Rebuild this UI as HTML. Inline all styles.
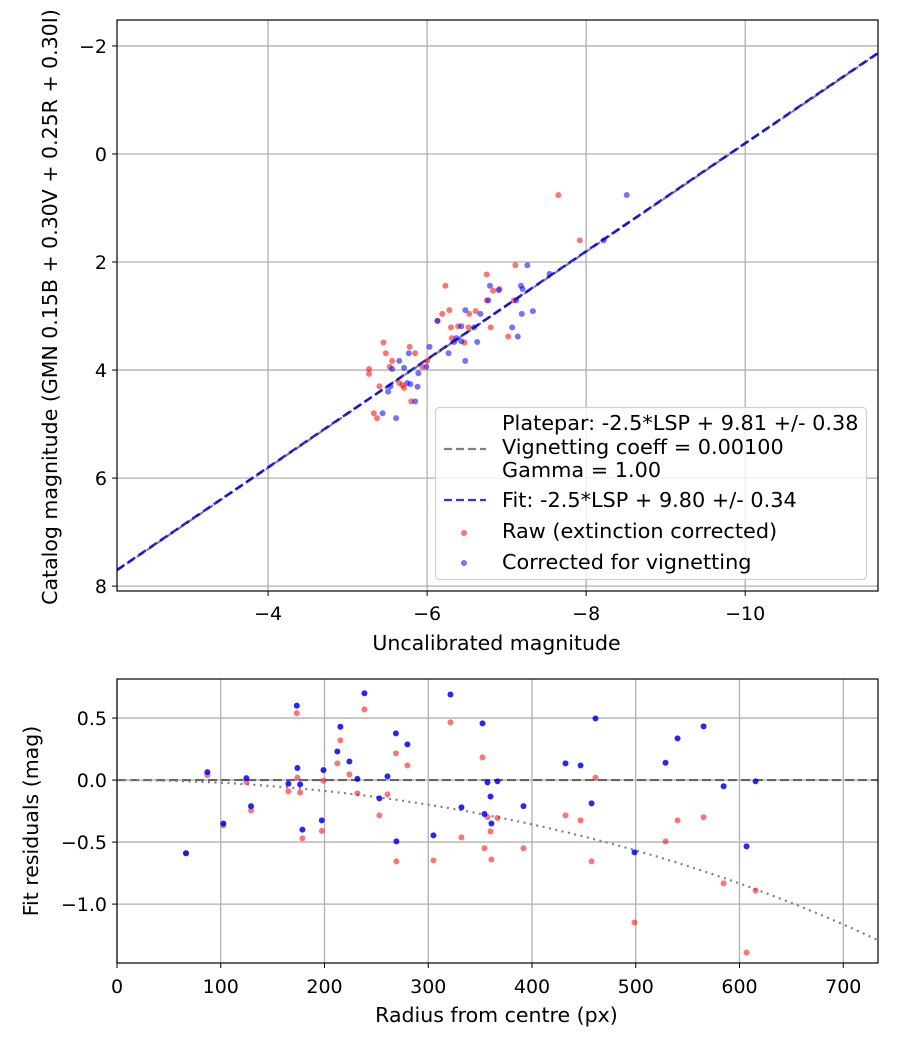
<!DOCTYPE html>
<html><head><meta charset="utf-8"><style>
body{margin:0;background:#fff}
svg text{font-family:"DejaVu Sans","Liberation Sans",sans-serif;fill:#000}
</style></head><body>
<svg id="fig" width="900" height="1050" xmlns="http://www.w3.org/2000/svg">
<rect width="900" height="1050" fill="#fff"/>
<g id="topplot"></g>
<g id="botplot"></g>
</svg>
<script>
// ---- Top chart data ----
const rawX = [-7.11,-6.75,-6.23,-6.83,-6.91,-6.75,-7.09,-6.28,-6.19,-6.61,-6.53,-6.30,-6.39,-6.52,-6.80,-6.31,-6.47,-7.02,-5.45,-5.78,-5.85,-5.48,-5.56,-5.53,-6.00,-5.27,-5.27,-5.40,-5.65,-5.69,-5.71,-5.80,-5.33,-5.37,-5.94,-7.65,-7.92,-6.13];
const rawY = [2.06,2.23,2.44,2.53,2.50,2.71,2.71,2.89,2.96,2.91,2.96,3.21,3.19,3.21,3.21,3.41,3.49,3.38,3.49,3.57,3.69,3.69,3.83,3.94,3.83,3.98,4.07,4.30,4.24,4.28,4.33,4.58,4.80,4.89,3.94,0.76,1.60,3.09];
const corX = [-7.26,-6.79,-6.90,-6.77,-7.12,-7.18,-7.20,-6.48,-6.67,-7.33,-7.19,-6.13,-6.43,-6.59,-7.07,-7.14,-6.37,-6.43,-6.63,-6.34,-6.03,-6.27,-6.48,-5.77,-5.65,-5.71,-5.56,-5.89,-5.99,-5.75,-5.79,-5.88,-5.54,-5.51,-5.85,-5.44,-5.61,-8.51,-8.22,-7.54];
const corY = [2.06,2.44,2.52,2.71,2.71,2.44,2.50,2.89,2.96,2.91,2.96,3.09,3.19,3.21,3.21,3.38,3.41,3.47,3.48,3.48,3.57,3.69,3.83,3.69,3.83,3.96,3.98,4.06,3.94,4.24,4.26,4.31,4.30,4.40,4.58,4.80,4.89,0.76,1.60,2.22];
const fitZero = [9.80];
const plateZero = [9.81];
const topXTicks = [-4,-6,-8,-10];
const topYTicks = [-2,0,2,4,6,8];
// ---- Bottom chart data ----
const radius = [66.5,87.1,102.5,124.7,129.2,165.2,173.3,173.9,176.5,178.7,197.4,199,212.4,215.3,224,231.7,238.5,252.9,260.7,268.8,269.3,279.9,305,321.4,332,352.3,354.2,357.1,360,360.9,366.7,391.8,432.3,446.8,457.4,461.2,498.8,528.7,540.3,565.4,584.7,606.8,615.5];
const residCor = [-0.59,0.064,-0.35,0.016,-0.21,-0.03,0.60,0.097,-0.035,-0.40,-0.325,0.08,0.23,0.43,0.15,0.01,0.70,-0.148,0.03,0.377,-0.494,0.288,-0.446,0.69,-0.22,0.457,-0.274,-0.019,-0.132,-0.35,-0.01,-0.21,0.135,0.118,-0.188,0.497,-0.583,0.14,0.336,0.433,-0.05,-0.535,-0.01];
const residRaw = [-0.59,0.04,-0.365,-0.016,-0.245,-0.09,0.54,0.02,-0.10,-0.47,-0.41,-0.005,0.135,0.32,0.046,-0.107,0.57,-0.285,-0.115,0.215,-0.656,0.118,-0.648,0.465,-0.462,0.183,-0.55,-0.298,-0.414,-0.64,-0.306,-0.55,-0.285,-0.325,-0.656,0.02,-1.148,-0.494,-0.325,-0.30,-0.833,-1.39,-0.89];
const vignCoeff = [0.001];
const botXTicks = [0,100,200,300,400,500,600,700];
const botYTicks = [0.5,0.0,-0.5,-1.0];

const NS='http://www.w3.org/2000/svg';
function mk(parent,tag,attrs,text){const e=document.createElementNS(NS,tag);for(const k in attrs)e.setAttribute(k,attrs[k]);if(text!==undefined)e.textContent=text;parent.appendChild(e);return e;}
function fmt(v,d){const s=v.toFixed(d);return v<0?'\u2212'+s.slice(1):s;}
const TICKFS=19, TITLEFS=20.5, LEGFS=20.8;

// ---- Top axes ----
const T={l:117,r:878,t:20,b:591,xmin:-2.1,xmax:-11.67,ymin:-2.48,ymax:8.09};
const tx=v=>T.l+(v-T.xmin)/(T.xmax-T.xmin)*(T.r-T.l);
const ty=v=>T.t+(v-T.ymin)/(T.ymax-T.ymin)*(T.b-T.t);
const topG=document.getElementById('topplot');
const tg=mk(topG,'g',{});


topXTicks.forEach(v=>{
  mk(tg,'line',{x1:tx(v),x2:tx(v),y1:T.t,y2:T.b,stroke:'#b0b0b0','stroke-width':1.3});
  mk(topG,'line',{x1:tx(v),x2:tx(v),y1:T.b,y2:T.b+5,stroke:'#000','stroke-width':1});
  const t=mk(topG,'text',{x:tx(v),y:T.b+29,'text-anchor':'middle','font-size':TICKFS},fmt(v,0));
  
  
});
topYTicks.forEach(v=>{
  mk(tg,'line',{x1:T.l,x2:T.r,y1:ty(v),y2:ty(v),stroke:'#b0b0b0','stroke-width':1.3});
  mk(topG,'line',{x1:T.l-5,x2:T.l,y1:ty(v),y2:ty(v),stroke:'#000','stroke-width':1});
  const t=mk(topG,'text',{x:T.l-10,y:ty(v)+7,'text-anchor':'end','font-size':TICKFS},fmt(v,0));
  
  
});
const clipT=mk(topG,'clipPath',{id:'ct'});mk(clipT,'rect',{x:T.l,y:T.t,width:T.r-T.l,height:T.b-T.t});
const pts=mk(topG,'g',{'clip-path':'url(#ct)'});
const pl=mk(pts,'line',{x1:tx(T.xmin),y1:ty(T.xmin+plateZero[0]),x2:tx(T.xmax),y2:ty(T.xmax+plateZero[0]),stroke:'#808080','stroke-width':2.2,'stroke-dasharray':'8,4'});


const fl=mk(pts,'line',{x1:tx(T.xmin),y1:ty(T.xmin+fitZero[0]),x2:tx(T.xmax),y2:ty(T.xmax+fitZero[0]),stroke:'#0000e0','stroke-opacity':0.85,'stroke-width':2.5,'stroke-dasharray':'9,4'});


rawX.forEach((x,i)=>{const c=mk(pts,'circle',{cx:tx(x),cy:ty(rawY[i]),r:3,fill:'#ff0000','fill-opacity':0.55});
  
  });
corX.forEach((x,i)=>{const c=mk(pts,'circle',{cx:tx(x),cy:ty(corY[i]),r:3,fill:'#0000ff','fill-opacity':0.55});
  
  });
mk(topG,'rect',{x:T.l,y:T.t,width:T.r-T.l,height:T.b-T.t,fill:'none',stroke:'#000','stroke-width':1.2});
let lab=mk(topG,'text',{x:T.l+(T.r-T.l)/2-1,y:650,'text-anchor':'middle','font-size':TITLEFS},'Uncalibrated magnitude');


lab=mk(topG,'text',{x:0,y:0,'text-anchor':'middle','font-size':TITLEFS,transform:'translate(57,307) rotate(-90)'},'Catalog magnitude (GMN 0.15B + 0.30V + 0.25R + 0.30I)');


// legend
const lg=mk(topG,'g',{});


mk(lg,'rect',{x:435.5,y:407.5,width:431,height:172,rx:4,fill:'#fff','fill-opacity':0.8,stroke:'#d0d0d0','stroke-width':1.2});
mk(lg,'line',{x1:444,x2:486,y1:449,y2:449,stroke:'#808080','stroke-width':2.2,'stroke-dasharray':'8,4'});
mk(lg,'line',{x1:444,x2:486,y1:500,y2:500,stroke:'#3030ff','stroke-width':2.2,'stroke-dasharray':'8,4'});
mk(lg,'circle',{cx:464,cy:533,r:3,fill:'#ff0000','fill-opacity':0.55});
mk(lg,'circle',{cx:464,cy:563,r:3,fill:'#0000ff','fill-opacity':0.55});
[['Platepar: -2.5*LSP + 9.81 +/- 0.38',430],['Vignetting coeff = 0.00100',454],['Gamma = 1.00',477],['Fit: -2.5*LSP + 9.80 +/- 0.34',507],['Raw (extinction corrected)',538],['Corrected for vignetting',569]].forEach(a=>{
  const t=mk(lg,'text',{x:502,y:a[1],'font-size':LEGFS},a[0]);
  
  
});

// ---- Bottom axes ----
const B={l:117,r:878,t:679,b:963,xmin:0,xmax:733.5,ymin:0.815,ymax:-1.475};
const bx=v=>B.l+(v-B.xmin)/(B.xmax-B.xmin)*(B.r-B.l);
const by=v=>B.t+(v-B.ymin)/(B.ymax-B.ymin)*(B.b-B.t);
const botG=document.getElementById('botplot');
const bg=mk(botG,'g',{});


botXTicks.forEach(v=>{
  mk(bg,'line',{x1:bx(v),x2:bx(v),y1:B.t,y2:B.b,stroke:'#b0b0b0','stroke-width':1.3});
  mk(botG,'line',{x1:bx(v),x2:bx(v),y1:B.b,y2:B.b+5,stroke:'#000','stroke-width':1});
  const t=mk(botG,'text',{x:bx(v),y:B.b+30,'text-anchor':'middle','font-size':TICKFS},String(v));
  
  
});
botYTicks.forEach(v=>{
  mk(bg,'line',{x1:B.l,x2:B.r,y1:by(v),y2:by(v),stroke:'#b0b0b0','stroke-width':1.3});
  mk(botG,'line',{x1:B.l-5,x2:B.l,y1:by(v),y2:by(v),stroke:'#000','stroke-width':1});
  const t=mk(botG,'text',{x:B.l-10,y:by(v)+7,'text-anchor':'end','font-size':TICKFS},fmt(v,1));
  
  
});
const clipB=mk(botG,'clipPath',{id:'cb'});mk(clipB,'rect',{x:B.l,y:B.t,width:B.r-B.l,height:B.b-B.t});
const bp=mk(botG,'g',{'clip-path':'url(#cb)'});
const zl=mk(bp,'line',{x1:B.l,x2:B.r,y1:by(0),y2:by(0),stroke:'#555','stroke-opacity':0.85,'stroke-width':2.2,'stroke-dasharray':'9,4'});


let d='';
for(let r=0;r<=735;r+=5){const v=10*Math.log10(Math.cos(vignCoeff[0]*r));d+=(r?'L':'M')+bx(r).toFixed(1)+','+by(v).toFixed(1);}
const vc=mk(bp,'path',{d:d,fill:'none',stroke:'#808080','stroke-width':2.2,'stroke-dasharray':'2,4.5'});


radius.forEach((r,i)=>{const c=mk(bp,'circle',{cx:bx(r),cy:by(residRaw[i]),r:3,fill:'#ff0000','fill-opacity':0.55});
  
  });
radius.forEach((r,i)=>{const c=mk(bp,'circle',{cx:bx(r),cy:by(residCor[i]),r:3,fill:'#0000ff','fill-opacity':0.85});
  
  });
mk(botG,'rect',{x:B.l,y:B.t,width:B.r-B.l,height:B.b-B.t,fill:'none',stroke:'#000','stroke-width':1.2});
lab=mk(botG,'text',{x:B.l+(B.r-B.l)/2-1,y:1022,'text-anchor':'middle','font-size':TITLEFS},'Radius from centre (px)');


lab=mk(botG,'text',{x:0,y:0,'text-anchor':'middle','font-size':TITLEFS,transform:'translate(38,821) rotate(-90)'},'Fit residuals (mag)');


</script>
</body></html>
